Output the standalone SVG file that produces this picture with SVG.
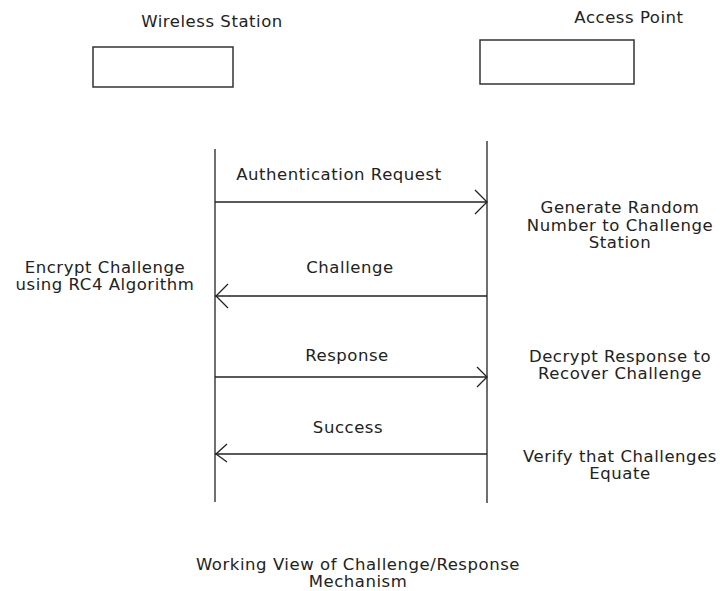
<svg xmlns="http://www.w3.org/2000/svg" width="725" height="591" viewBox="0 0 725 591">
<style>
text{font-family:"DejaVu Sans",Verdana,sans-serif;font-size:16.5px;letter-spacing:0.55px;fill:#222;text-anchor:middle}
.box{fill:#fff;stroke:#333;stroke-width:1.5}
.line{stroke:#222;stroke-width:1.3;fill:none}
</style>
<rect width="725" height="591" fill="#fff"/>
<g id="station">
<text x="212" y="27">Wireless Station</text>
<rect class="box" x="93" y="47" width="140" height="40"/>
</g>
<g id="ap">
<text x="629" y="23">Access Point</text>
<rect class="box" x="480" y="40" width="154" height="44"/>
</g>
<g id="connectors">
<line class="line" x1="215" y1="149" x2="215" y2="502"/>
<line class="line" x1="487" y1="141" x2="487" y2="503"/>
<line class="line" x1="215" y1="202" x2="487" y2="202"/>
<polyline class="line" points="475,190 487,202 475,214"/>
<line class="line" x1="215" y1="296" x2="487" y2="296"/>
<polyline class="line" points="228,284 216,296 228,308"/>
<line class="line" x1="215" y1="377" x2="487" y2="377"/>
<polyline class="line" points="477,367 487,377 477,387"/>
<line class="line" x1="215" y1="454" x2="487" y2="454"/>
<polyline class="line" points="227,444 216,454 227,462"/>
<text x="339" y="180">Authentication Request</text>
<text x="350" y="273">Challenge</text>
<text x="347" y="361">Response</text>
<text x="348" y="433">Success</text>
</g>
<g id="notes">
<text x="620" y="213">Generate Random</text>
<text x="620" y="231">Number to Challenge</text>
<text x="620" y="248">Station</text>
<text x="105" y="273">Encrypt Challenge</text>
<text x="105" y="290">using RC4 Algorithm</text>
<text x="620" y="362">Decrypt Response to</text>
<text x="620" y="379">Recover Challenge</text>
<text x="620" y="462">Verify that Challenges</text>
<text x="620" y="479">Equate</text>
<text x="358" y="570">Working View of Challenge/Response</text>
<text x="358" y="587">Mechanism</text>
</g>
</svg>
